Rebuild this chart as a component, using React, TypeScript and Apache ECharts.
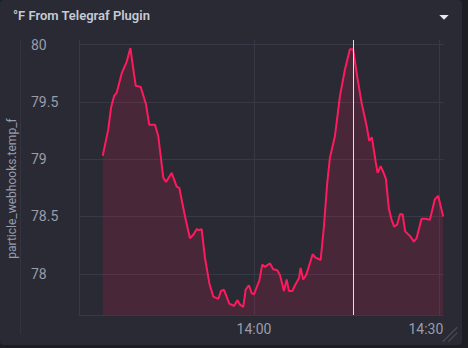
import React, { useEffect, useRef } from "react";
import * as echarts from "echarts";

const times = [
  "13:35:28", "13:36:22", "13:36:49", "13:37:18", "13:37:44", "13:38:33", "13:39:21", "13:39:57",
  "13:40:49", "13:41:38", "13:42:29", "13:43:01", "13:43:57", "13:44:29", "13:45:17", "13:45:44",
  "13:46:39", "13:47:28", "13:47:53", "13:48:49", "13:49:37", "13:50:10", "13:50:43", "13:51:05",
  "13:51:31", "13:52:03", "13:52:45", "13:53:24", "13:54:13", "13:54:39", "13:55:08", "13:56:00",
  "13:56:45", "13:57:21", "13:57:44", "13:58:16", "13:58:39", "13:59:11", "13:59:38", "14:00:00",
  "14:00:52", "14:01:21", "14:01:47", "14:02:36", "14:03:08", "14:03:47", "14:04:13", "14:04:52",
  "14:05:18", "14:05:41", "14:06:13", "14:06:46", "14:07:18", "14:07:34", "14:07:59", "14:08:29",
  "14:09:11", "14:09:31", "14:10:01", "14:10:49", "14:11:21", "14:11:53", "14:12:19", "14:13:08",
  "14:13:57", "14:14:45", "14:15:34", "14:16:06", "14:16:45", "14:17:28", "14:18:17", "14:18:42",
  "14:19:08", "14:19:44", "14:20:04", "14:20:33", "14:20:58", "14:21:24", "14:21:53", "14:22:20",
  "14:22:45", "14:23:14", "14:23:41", "14:24:07", "14:24:32", "14:25:18", "14:25:57", "14:26:23",
  "14:27:11", "14:27:53", "14:28:32", "14:29:21", "14:29:53", "14:30:42",
];

const tempF = [
  79.03, 79.26, 79.45, 79.55, 79.58, 79.75, 79.85, 79.97,
  79.64, 79.63, 79.48, 79.30, 79.30, 79.20, 78.84, 78.80,
  78.88, 78.76, 78.75, 78.50, 78.31, 78.34, 78.39, 78.38,
  78.39, 78.14, 77.92, 77.80, 77.78, 77.85, 77.86, 77.74,
  77.72, 77.77, 77.73, 77.71, 77.86, 77.90, 77.83, 77.82,
  77.94, 78.08, 78.06, 78.09, 78.04, 78.03, 77.99, 77.85,
  77.95, 77.85, 77.85, 77.91, 77.96, 78.05, 77.95, 77.99,
  78.11, 78.17, 78.14, 78.12, 78.41, 78.79, 79.01, 79.20,
  79.55, 79.78, 79.96, 79.96, 79.72, 79.49, 79.29, 79.16,
  79.19, 78.98, 78.88, 78.94, 78.89, 78.83, 78.57, 78.47,
  78.41, 78.43, 78.52, 78.52, 78.37, 78.33, 78.28, 78.31,
  78.48, 78.48, 78.47, 78.65, 78.68, 78.50,
];

const xTickLabels = ["14:00", "14:30"];
const xRange = ["13:31:37", "14:30:45"];
const yTickValues = [78, 78.5, 79, 79.5, 80];
const hoverTime = "14:16:06";
const yMin = 77.64;
const yMax = 80.04;
const title = "°F From Telegraf Plugin";
const yName = "particle_webhooks.temp_f";

// seconds since midnight
function toSec(hms: string): number {
  const [h, m, s] = hms.split(":").map(Number);
  return h * 3600 + m * 60 + (s || 0);
}

const pad2 = (n: number) => String(n).padStart(2, "0");
const fmtHM = (sec: number) => `${pad2(Math.floor(sec / 3600))}:${pad2(Math.floor((sec % 3600) / 60))}`;

export default function App() {
  const ref = useRef<HTMLDivElement>(null);

  useEffect(() => {
    document.body.style.margin = "0";
    if (!ref.current) return;
    const chart = echarts.init(ref.current, null, { renderer: "svg" });
    const xTicks = xTickLabels.map(toSec);
    const lastTick = xTicks[xTicks.length - 1];
    const gridColor = "#383946";
    const textColor = "#999dab";

    chart.setOption({
      animation: false,
      backgroundColor: "transparent",
      grid: { left: 79, right: 18.5, top: 40, bottom: 30, outerBoundsMode: "none", containLabel: false },
      xAxis: {
        type: "value",
        min: toSec(xRange[0]),
        max: toSec(xRange[1]),
        axisLine: { show: true, lineStyle: { color: gridColor, width: 1 } },
        axisTick: { show: false, customValues: xTicks },
        splitLine: { show: true, lineStyle: { color: gridColor, width: 1 } },
        axisLabel: {
          customValues: xTicks,
          margin: 7,
          color: textColor,
          fontSize: 14,
          fontFamily: "Roboto",
          formatter: (v: number) => {
            const s = fmtHM(v);
            return v === lastTick ? `{r|${s}}` : s;
          },
          rich: {
            r: { color: textColor, fontSize: 14, fontFamily: "Roboto", padding: [0, 26, 0, 0] },
          },
        },
      },
      yAxis: {
        type: "value",
        min: yMin,
        max: yMax,
        name: yName,
        nameLocation: "middle",
        nameGap: 61,
        nameRotate: 90,
        nameTextStyle: { color: textColor, fontSize: 12, fontFamily: "Roboto", padding: [0, 22, 0, 0] },
        axisLine: { show: true, lineStyle: { color: gridColor, width: 1 } },
        axisTick: { show: false, customValues: yTickValues },
        splitLine: { show: true, lineStyle: { color: gridColor, width: 1 } },
        axisLabel: {
          customValues: yTickValues,
          align: "left",
          margin: 48,
          color: textColor,
          fontSize: 14,
          fontFamily: "Roboto",
          formatter: (v: number) => String(v),
        },
      },
      series: [
        {
          type: "line",
          data: times.map((t, i) => [toSec(t), tempF[i]]),
          showSymbol: false,
          symbol: "none",
          lineStyle: { color: "#ff1a5e", width: 2 },
          itemStyle: { color: "#ff1a5e" },
          areaStyle: { color: "rgba(255,26,94,0.15)", opacity: 1 },
          markLine: {
            silent: true,
            symbol: ["none", "none"],
            label: { show: false },
            lineStyle: { color: "#e8dde8", width: 1, type: "solid" },
            data: [{ xAxis: toSec(hoverTime) }],
          },
        },
      ],
      graphic: [
        {
          type: "text",
          left: 13,
          top: 9,
          style: {
            text: title,
            fill: "#c6cad3",
            font: "600 13px Roboto",
          },
        },
        {
          type: "polygon",
          shape: { points: [[439.3, 15], [448.7, 15], [444, 19.8]] },
          style: { fill: "#e8e8ee" },
        },
        {
          type: "line",
          shape: { x1: 20.5, y1: 40, x2: 20.5, y2: 334 },
          style: { stroke: "#33343f", lineWidth: 1 },
        },
        {
          type: "line",
          shape: { x1: 442.7, y1: 341.7, x2: 457.3, y2: 327.3 },
          style: { stroke: "#4a4b56", lineWidth: 1.2 },
        },
        {
          type: "line",
          shape: { x1: 448.3, y1: 341.7, x2: 457.3, y2: 332.7 },
          style: { stroke: "#4a4b56", lineWidth: 1.2 },
        },
      ],
    });
    return () => chart.dispose();
  }, []);

  return (
    <div
      style={{
        position: "fixed",
        left: 0,
        top: 0,
        width: 468,
        height: 348,
        background: "#1d1e24",
      }}
    >
      <div
        ref={ref}
        style={{
          width: 462,
          height: 345,
          background: "#292a33",
          borderRadius: 4,
        }}
      />
    </div>
  );
}
